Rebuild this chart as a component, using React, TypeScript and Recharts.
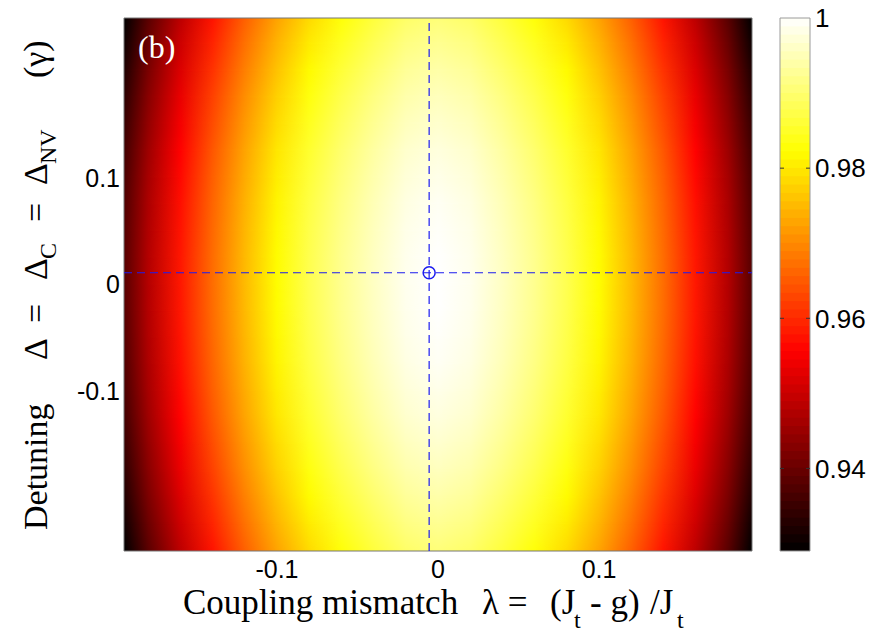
import { ScatterChart, Scatter, XAxis, YAxis, ReferenceArea, ReferenceLine } from "recharts";

// coupling mismatch λ (columns) and detuning Δ (rows) of the fidelity map
const lambdaValues = [-0.195, -0.18, -0.16, -0.14, -0.12, -0.1, -0.08, -0.06, -0.04, -0.02, 0, 0.02, 0.04, 0.06, 0.08, 0.1, 0.12, 0.14, 0.16, 0.18, 0.195];
const deltaValues = [0.25, 0.225, 0.2, 0.175, 0.15, 0.125, 0.1, 0.075, 0.05, 0.025, 0, -0.025, -0.05, -0.075, -0.1, -0.125, -0.15, -0.175, -0.2, -0.225, -0.25];

// fidelity, one row per detuning value
const fidelity = [
  [0.9288, 0.9384, 0.9486, 0.9576, 0.9656, 0.9726, 0.9784, 0.9828, 0.9864, 0.9894, 0.9906, 0.9894, 0.9864, 0.9828, 0.9784, 0.9726, 0.9656, 0.9576, 0.9486, 0.9384, 0.9288],
  [0.9306, 0.9402, 0.9504, 0.9594, 0.9674, 0.9744, 0.9802, 0.9846, 0.9882, 0.9912, 0.9924, 0.9912, 0.9882, 0.9846, 0.9802, 0.9744, 0.9674, 0.9594, 0.9504, 0.9402, 0.9306],
  [0.9322, 0.9418, 0.952, 0.961, 0.969, 0.976, 0.9818, 0.9862, 0.9898, 0.9928, 0.994, 0.9928, 0.9898, 0.9862, 0.9818, 0.976, 0.969, 0.961, 0.952, 0.9418, 0.9322],
  [0.9336, 0.9432, 0.9534, 0.9624, 0.9704, 0.9774, 0.9832, 0.9876, 0.9912, 0.9942, 0.9954, 0.9942, 0.9912, 0.9876, 0.9832, 0.9774, 0.9704, 0.9624, 0.9534, 0.9432, 0.9336],
  [0.9348, 0.9444, 0.9546, 0.9636, 0.9716, 0.9786, 0.9844, 0.9888, 0.9924, 0.9954, 0.9966, 0.9954, 0.9924, 0.9888, 0.9844, 0.9786, 0.9716, 0.9636, 0.9546, 0.9444, 0.9348],
  [0.9359, 0.9455, 0.9557, 0.9647, 0.9727, 0.9797, 0.9855, 0.9899, 0.9935, 0.9965, 0.9977, 0.9965, 0.9935, 0.9899, 0.9855, 0.9797, 0.9727, 0.9647, 0.9557, 0.9455, 0.9359],
  [0.9367, 0.9463, 0.9565, 0.9655, 0.9735, 0.9805, 0.9863, 0.9907, 0.9943, 0.9973, 0.9985, 0.9973, 0.9943, 0.9907, 0.9863, 0.9805, 0.9735, 0.9655, 0.9565, 0.9463, 0.9367],
  [0.9374, 0.947, 0.9572, 0.9662, 0.9742, 0.9812, 0.987, 0.9914, 0.995, 0.998, 0.9992, 0.998, 0.995, 0.9914, 0.987, 0.9812, 0.9742, 0.9662, 0.9572, 0.947, 0.9374],
  [0.9378, 0.9474, 0.9576, 0.9666, 0.9746, 0.9816, 0.9874, 0.9918, 0.9954, 0.9984, 0.9996, 0.9984, 0.9954, 0.9918, 0.9874, 0.9816, 0.9746, 0.9666, 0.9576, 0.9474, 0.9378],
  [0.9381, 0.9477, 0.9579, 0.9669, 0.9749, 0.9819, 0.9877, 0.9921, 0.9957, 0.9987, 0.9999, 0.9987, 0.9957, 0.9921, 0.9877, 0.9819, 0.9749, 0.9669, 0.9579, 0.9477, 0.9381],
  [0.9382, 0.9478, 0.958, 0.967, 0.975, 0.982, 0.9878, 0.9922, 0.9958, 0.9988, 1.0, 0.9988, 0.9958, 0.9922, 0.9878, 0.982, 0.975, 0.967, 0.958, 0.9478, 0.9382],
  [0.9381, 0.9477, 0.9579, 0.9669, 0.9749, 0.9819, 0.9877, 0.9921, 0.9957, 0.9987, 0.9999, 0.9987, 0.9957, 0.9921, 0.9877, 0.9819, 0.9749, 0.9669, 0.9579, 0.9477, 0.9381],
  [0.9378, 0.9474, 0.9576, 0.9666, 0.9746, 0.9816, 0.9874, 0.9918, 0.9954, 0.9984, 0.9996, 0.9984, 0.9954, 0.9918, 0.9874, 0.9816, 0.9746, 0.9666, 0.9576, 0.9474, 0.9378],
  [0.9374, 0.947, 0.9572, 0.9662, 0.9742, 0.9812, 0.987, 0.9914, 0.995, 0.998, 0.9992, 0.998, 0.995, 0.9914, 0.987, 0.9812, 0.9742, 0.9662, 0.9572, 0.947, 0.9374],
  [0.9367, 0.9463, 0.9565, 0.9655, 0.9735, 0.9805, 0.9863, 0.9907, 0.9943, 0.9973, 0.9985, 0.9973, 0.9943, 0.9907, 0.9863, 0.9805, 0.9735, 0.9655, 0.9565, 0.9463, 0.9367],
  [0.9359, 0.9455, 0.9557, 0.9647, 0.9727, 0.9797, 0.9855, 0.9899, 0.9935, 0.9965, 0.9977, 0.9965, 0.9935, 0.9899, 0.9855, 0.9797, 0.9727, 0.9647, 0.9557, 0.9455, 0.9359],
  [0.9348, 0.9444, 0.9546, 0.9636, 0.9716, 0.9786, 0.9844, 0.9888, 0.9924, 0.9954, 0.9966, 0.9954, 0.9924, 0.9888, 0.9844, 0.9786, 0.9716, 0.9636, 0.9546, 0.9444, 0.9348],
  [0.9336, 0.9432, 0.9534, 0.9624, 0.9704, 0.9774, 0.9832, 0.9876, 0.9912, 0.9942, 0.9954, 0.9942, 0.9912, 0.9876, 0.9832, 0.9774, 0.9704, 0.9624, 0.9534, 0.9432, 0.9336],
  [0.9322, 0.9418, 0.952, 0.961, 0.969, 0.976, 0.9818, 0.9862, 0.9898, 0.9928, 0.994, 0.9928, 0.9898, 0.9862, 0.9818, 0.976, 0.969, 0.961, 0.952, 0.9418, 0.9322],
  [0.9306, 0.9402, 0.9504, 0.9594, 0.9674, 0.9744, 0.9802, 0.9846, 0.9882, 0.9912, 0.9924, 0.9912, 0.9882, 0.9846, 0.9802, 0.9744, 0.9674, 0.9594, 0.9504, 0.9402, 0.9306],
  [0.9288, 0.9384, 0.9486, 0.9576, 0.9656, 0.9726, 0.9784, 0.9828, 0.9864, 0.9894, 0.9906, 0.9894, 0.9864, 0.9828, 0.9784, 0.9726, 0.9656, 0.9576, 0.9486, 0.9384, 0.9288],
];

const xTicks = [-0.1, 0, 0.1];
const yTicks = [-0.1, 0, 0.1];
const colorTicks = [0.94, 0.96, 0.98, 1];
const optimumPoint = [{ lambda: -0.0055, delta: 0.011 }];

const X_MIN = -0.195;
const X_MAX = 0.195;
const Y_MIN = -0.25;
const Y_MAX = 0.25;
const C_MIN = 0.929;
const C_MAX = 1;

const SANS = "Arial, 'Liberation Sans', sans-serif";
const SERIF = "'Times New Roman', 'Liberation Serif', serif";
const BLUE = "#1c1cf0";

// MATLAB "hot" colormap
function hot(v: number) {
  const t = Math.min(1, Math.max(0, (v - C_MIN) / (C_MAX - C_MIN)));
  const r = Math.min(1, t / 0.375);
  const g = Math.min(1, Math.max(0, (t - 0.375) / 0.375));
  const b = Math.min(1, Math.max(0, (t - 0.75) / 0.25));
  return `rgb(${Math.round(r * 255)},${Math.round(g * 255)},${Math.round(b * 255)})`;
}

const fmt = (v: number) => (v === 0 ? "0" : String(v));

const yTitle = () => (
  <text transform="translate(47, 530) rotate(-90)" fontFamily={SERIF} fontSize={34} fill="#000">
    <tspan x={0} y={0}>Detuning</tspan>
    <tspan x={170} y={0}>Δ</tspan>
    <tspan x={207} y={0}>=</tspan>
    <tspan x={250} y={0}>Δ</tspan>
    <tspan x={271} y={9} fontSize={24}>C</tspan>
    <tspan x={308} y={0}>=</tspan>
    <tspan x={345} y={0}>Δ</tspan>
    <tspan x={366} y={9} fontSize={24}>NV</tspan>
    <tspan x={452} y={0}>(γ)</tspan>
  </text>
);

const xTitle = () => (
  <text fontFamily={SERIF} fontSize={35} fill="#000">
    <tspan x={183} y={614}>Coupling mismatch</tspan>
    <tspan x={482} y={614}>λ =</tspan>
    <tspan x={550} y={614}>(J</tspan>
    <tspan x={574} y={628} fontSize={24}>t</tspan>
    <tspan x={590} y={614}>- g)</tspan>
    <tspan x={650} y={614}>/J</tspan>
    <tspan x={677} y={628} fontSize={24}>t</tspan>
  </text>
);

const panelTag = () => (
  <text x={138} y={58} fontFamily={SERIF} fontSize={32} fill="#fff">
    (b)
  </text>
);

function ColorBar() {
  const bands = Array.from({ length: 64 }, (_, k) => k);
  const step = (C_MAX - C_MIN) / 64;
  const tickPoints = colorTicks.slice(0, 3).map((v) => ({ x: 0, y: v }));
  return (
    <ScatterChart width={875} height={633} margin={{ top: 18, right: 5, bottom: 82, left: 780 }}>
      <XAxis type="number" dataKey="x" domain={[0, 1]} hide />
      <YAxis
        type="number"
        dataKey="y"
        orientation="right"
        domain={[C_MIN, C_MAX]}
        ticks={colorTicks}
        tickFormatter={(v: number) => (v === 1 ? "1" : v.toFixed(2))}
        tick={{ fontSize: 26, fill: "#000", fontFamily: SANS }}
        axisLine={false}
        tickLine={false}
        tickSize={0}
        tickMargin={5}
        width={60}
      />
      {bands.map((k) => (
        <ReferenceArea
          key={k}
          x1={0}
          x2={1}
          y1={C_MIN + k * step}
          y2={Math.min(C_MAX, C_MIN + (k + 1) * step + step * 0.3)}
          fill={hot(C_MIN + (k + 0.5) * step)}
          fillOpacity={1}
          stroke="none"
        />
      ))}
      <ReferenceArea x1={0} x2={1} y1={C_MIN} y2={C_MAX} fill="none" stroke="#9a9a9a" strokeWidth={1} />
      <Scatter
        data={tickPoints}
        isAnimationActive={false}
        shape={(p: any) => (
          <g stroke="#333" strokeWidth={1}>
            <line x1={p.cx} y1={p.cy} x2={p.cx + 4} y2={p.cy} />
            <line x1={p.cx + 26} y1={p.cy} x2={p.cx + 30} y2={p.cy} />
          </g>
        )}
      />
    </ScatterChart>
  );
}

export default function App() {
  const intervals = deltaValues.slice(0, -1).map((d, j) => j);
  return (
    <div style={{ position: "absolute", left: 0, top: 0, width: 875, height: 633, background: "#fff" }}>
      <div style={{ position: "absolute", left: 0, top: 0 }}>
        <ScatterChart width={875} height={633} margin={{ top: 18, right: 123, bottom: 42, left: 24 }}>
          <defs>
            {fidelity.map((row, j) => (
              <linearGradient key={j} id={`row-${j}`} x1="0" y1="0" x2="1" y2="0">
                {row.map((v, i) => (
                  <stop key={i} offset={(lambdaValues[i] - X_MIN) / (X_MAX - X_MIN)} stopColor={hot(v)} />
                ))}
              </linearGradient>
            ))}
            <linearGradient id="ramp" x1="0" y1="0" x2="0" y2="1">
              <stop offset={0} stopColor="#fff" stopOpacity={0} />
              <stop offset={1} stopColor="#fff" stopOpacity={1} />
            </linearGradient>
            <mask id="fade" maskContentUnits="objectBoundingBox">
              <rect x={0} y={0} width={1} height={1} fill="url(#ramp)" />
            </mask>
          </defs>
          <XAxis
            type="number"
            dataKey="lambda"
            domain={[X_MIN, X_MAX]}
            ticks={xTicks}
            tickFormatter={fmt}
            tick={{ fontSize: 25, fill: "#000", fontFamily: SANS }}
            axisLine={false}
            tickLine={false}
            tickSize={0}
            tickMargin={9}
            height={40}
            label={xTitle}
          />
          <YAxis
            type="number"
            dataKey="delta"
            domain={[Y_MIN, Y_MAX]}
            ticks={yTicks}
            tickFormatter={fmt}
            tick={{ fontSize: 25, fill: "#000", fontFamily: SANS }}
            axisLine={false}
            tickLine={false}
            tickSize={0}
            tickMargin={4}
            width={100}
            label={yTitle}
          />
          {intervals.map((j) => (
            <ReferenceArea
              key={"b" + j}
              x1={X_MIN}
              x2={X_MAX}
              y1={deltaValues[j + 1]}
              y2={Math.min(Y_MAX, deltaValues[j] + 0.002)}
              fill={`url(#row-${j})`}
              fillOpacity={1}
              stroke="none"
            />
          ))}
          {intervals.map((j) => (
            <ReferenceArea
              key={"m" + j}
              x1={X_MIN}
              x2={X_MAX}
              y1={deltaValues[j + 1]}
              y2={deltaValues[j]}
              fill={`url(#row-${j + 1})`}
              fillOpacity={1}
              stroke="none"
              mask="url(#fade)"
            />
          ))}
          <ReferenceArea x1={X_MIN} x2={X_MAX} y1={Y_MIN} y2={Y_MAX} fill="none" stroke="#777" strokeWidth={1} label={panelTag} />
          <ReferenceLine x={optimumPoint[0].lambda} stroke={BLUE} strokeWidth={1.2} strokeDasharray="8 5" />
          <ReferenceLine y={optimumPoint[0].delta} stroke={BLUE} strokeWidth={1.2} strokeDasharray="8 5" />
          <Scatter
            data={optimumPoint}
            isAnimationActive={false}
            shape={(p: any) => <circle cx={p.cx} cy={p.cy} r={6} fill="none" stroke={BLUE} strokeWidth={1.5} />}
          />
        </ScatterChart>
      </div>
      <div style={{ position: "absolute", left: 0, top: 0 }}>
        <ColorBar />
      </div>
    </div>
  );
}
